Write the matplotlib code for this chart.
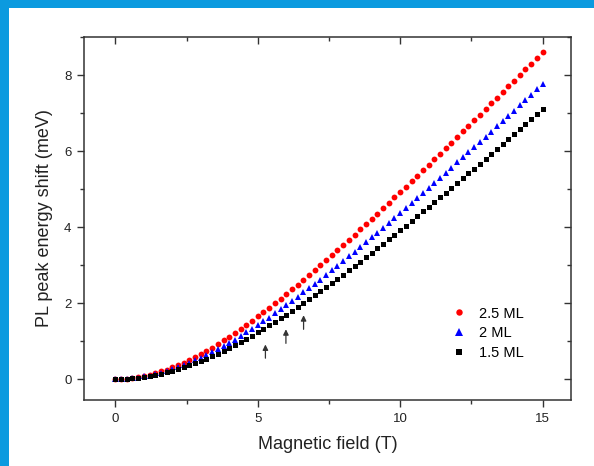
import matplotlib
matplotlib.use("Agg")
import matplotlib.pyplot as plt
from matplotlib.patches import Rectangle
from matplotlib.ticker import MultipleLocator
import numpy as np

plt.rcParams['font.family'] = ['Liberation Sans', 'DejaVu Sans']

# Magnetic field (T), 0 to 15 in 0.2 T steps
field = [round(0.2 * i, 1) for i in range(76)]

shift_25 = [0.00, 0.00, 0.01, 0.03, 0.05, 0.08, 0.11, 0.15, 0.20, 0.25,
            0.31, 0.37, 0.43, 0.51, 0.58, 0.66, 0.75, 0.83, 0.92, 1.02,
            1.12, 1.22, 1.32, 1.43, 1.54, 1.65, 1.76, 1.88, 2.00, 2.12,
            2.24, 2.36, 2.48, 2.61, 2.74, 2.87, 3.00, 3.13, 3.26, 3.39,
            3.53, 3.66, 3.80, 3.94, 4.08, 4.22, 4.35, 4.50, 4.64, 4.78,
            4.92, 5.06, 5.21, 5.35, 5.49, 5.64, 5.78, 5.93, 6.07, 6.22,
            6.37, 6.52, 6.66, 6.81, 6.96, 7.11, 7.26, 7.40, 7.55, 7.70,
            7.85, 8.00, 8.15, 8.30, 8.45, 8.61]

shift_20 = [0.00, 0.00, 0.01, 0.02, 0.04, 0.07, 0.09, 0.13, 0.17, 0.21,
            0.26, 0.31, 0.37, 0.43, 0.49, 0.56, 0.63, 0.71, 0.79, 0.87,
            0.96, 1.04, 1.13, 1.23, 1.32, 1.42, 1.52, 1.62, 1.73, 1.84,
            1.94, 2.05, 2.16, 2.28, 2.39, 2.51, 2.62, 2.74, 2.86, 2.98,
            3.10, 3.23, 3.35, 3.48, 3.60, 3.73, 3.85, 3.98, 4.11, 4.24,
            4.37, 4.50, 4.63, 4.76, 4.89, 5.03, 5.16, 5.29, 5.43, 5.56,
            5.70, 5.83, 5.97, 6.10, 6.24, 6.38, 6.51, 6.65, 6.79, 6.93,
            7.06, 7.20, 7.34, 7.48, 7.62, 7.76]

shift_15 = [0.00, 0.00, 0.01, 0.02, 0.04, 0.06, 0.08, 0.11, 0.14, 0.18,
            0.22, 0.26, 0.31, 0.36, 0.42, 0.48, 0.54, 0.60, 0.67, 0.74,
            0.82, 0.89, 0.97, 1.06, 1.14, 1.23, 1.32, 1.41, 1.50, 1.60,
            1.69, 1.79, 1.89, 1.99, 2.10, 2.20, 2.31, 2.42, 2.53, 2.64,
            2.75, 2.86, 2.97, 3.09, 3.20, 3.32, 3.44, 3.56, 3.68, 3.80,
            3.92, 4.04, 4.16, 4.28, 4.41, 4.53, 4.65, 4.78, 4.90, 5.03,
            5.16, 5.28, 5.41, 5.54, 5.67, 5.80, 5.93, 6.06, 6.19, 6.32,
            6.45, 6.58, 6.71, 6.84, 6.97, 7.11]

series_labels = ["2.5 ML", "2 ML", "1.5 ML"]

# Arrow annotations: field position, tail and tip energies
arrow_field = [5.27, 5.99, 6.61]
arrow_tail = [0.55, 0.94, 1.31]
arrow_tip = [0.91, 1.31, 1.68]

fig = plt.figure(figsize=(5.94, 4.66), dpi=100)
fig.patch.set_facecolor('white')
# blue frame on top and left
fig.patches.append(Rectangle((0, 1 - 8 / 466), 1, 8 / 466, transform=fig.transFigure,
                             facecolor='#0B9ADF', edgecolor='none', zorder=0))
fig.patches.append(Rectangle((0, 0), 9 / 594, 1, transform=fig.transFigure,
                             facecolor='#0B9ADF', edgecolor='none', zorder=0))

ax = fig.add_axes([84 / 594, 1 - 400 / 466, (571 - 84) / 594, (400 - 37) / 466])

ax.plot(field, shift_25, linestyle='none', marker='o', color='#FF0000',
        markersize=4.2, markeredgewidth=0, label=series_labels[0], zorder=3)
ax.plot(field, shift_20, linestyle='none', marker='^', color='#0000FF',
        markersize=4.6, markeredgewidth=0, label=series_labels[1], zorder=3)
ax.plot(field, shift_15, linestyle='none', marker='s', color='#000000',
        markersize=3.6, markeredgewidth=0, label=series_labels[2], zorder=3)

for xf, y0, y1 in zip(arrow_field, arrow_tail, arrow_tip):
    ax.annotate('', xy=(xf, y1), xytext=(xf, y0),
                arrowprops=dict(arrowstyle='-|>', color='#333333', lw=0.9,
                                mutation_scale=8, shrinkA=0, shrinkB=0))

ax.set_xlim(-1.1, 16.0)
ax.set_ylim(-0.55, 9.0)
ax.xaxis.set_major_locator(MultipleLocator(5))
ax.xaxis.set_minor_locator(MultipleLocator(2.5))
ax.yaxis.set_major_locator(MultipleLocator(2))
ax.yaxis.set_minor_locator(MultipleLocator(1))

for s in ax.spines.values():
    s.set_linewidth(1.1)
    s.set_color('#333333')

ax.tick_params(which='both', direction='out', bottom=True, left=True,
               top=False, right=False, colors='#333333', labelcolor='#222222',
               labelsize=9.5, width=1.0)
ax.tick_params(which='major', length=5, pad=4)
ax.tick_params(which='minor', length=3)

# inward mirrored ticks on top and right
sec_x = ax.secondary_xaxis('top')
sec_x.xaxis.set_major_locator(MultipleLocator(5))
sec_x.xaxis.set_minor_locator(MultipleLocator(2.5))
sec_x.tick_params(which='both', direction='in', labeltop=False, colors='#333333', width=1.0)
sec_x.tick_params(which='major', length=5)
sec_x.tick_params(which='minor', length=3)
sec_x.spines['top'].set_visible(False)
sec_y = ax.secondary_yaxis('right')
sec_y.yaxis.set_major_locator(MultipleLocator(2))
sec_y.yaxis.set_minor_locator(MultipleLocator(1))
sec_y.tick_params(which='both', direction='in', labelright=False, colors='#333333', width=1.0)
sec_y.tick_params(which='major', length=5)
sec_y.tick_params(which='minor', length=3)
sec_y.spines['right'].set_visible(False)

ax.set_xlabel('Magnetic field (T)', fontsize=13, color='#222222', labelpad=8)
ax.set_ylabel('PL peak energy shift (meV)', fontsize=13, color='#222222', labelpad=8)

leg = ax.legend(loc='lower right', bbox_to_anchor=(0.93, 0.075), frameon=False,
                fontsize=10.5, handlelength=1.0, handletextpad=0.9,
                labelspacing=0.38, markerscale=1.1)

fig.savefig('out.png', dpi=100, facecolor='white')
